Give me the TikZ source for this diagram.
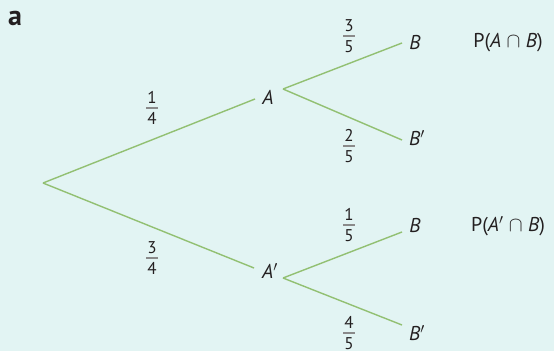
\documentclass[tikz,border=0pt]{standalone}
\usepackage{fontspec}
\setmainfont{PT Sans}
\definecolor{bgc}{HTML}{E2F4F3}
\definecolor{branchc}{HTML}{92C072}
\definecolor{ink}{HTML}{231F20}
\definecolor{barc}{HTML}{8A8A8A}
\newcommand\fr[2]{\vbox{\offinterlineskip\halign{\hfil##\hfil\cr #1\cr\noalign{\kern3.5pt}{\color{barc}\vrule width 12pt height 1.7pt depth 0pt}\cr\noalign{\kern3.5pt}#2\cr}}}
\begin{document}
\begin{tikzpicture}[x=1pt,y=-1pt,
  branch/.style={draw=branchc, line width=1.4pt},
  lbl/.style={inner sep=0pt, text=ink, font=\fontsize{20}{24}\selectfont},
  frac/.style={inner sep=0pt, text=ink, font=\fontsize{17}{20}\selectfont}]
\fill[bgc] (0,0) rectangle (554,351);
\useasboundingbox (0,0) rectangle (554,351);
\node[inner sep=0pt, text=ink, font=\bfseries\fontsize{28}{32}\selectfont] (tag) at (15,18) {a};
% junctions
\coordinate (root) at (43,183);
\coordinate (Ain) at (255,99);
\coordinate (Aout) at (283,89);
\coordinate (ABend) at (402,43);
\coordinate (ABpend) at (402,140);
\coordinate (Apin) at (254,268);
\coordinate (Apout) at (283,278);
\coordinate (ApBend) at (402,232);
\coordinate (ApBpend) at (402,325);
% connectors
\draw[branch] (root) -- (Ain);
\draw[branch] (root) -- (Apin);
\draw[branch] (Aout) -- (ABend);
\draw[branch] (Aout) -- (ABpend);
\draw[branch] (Apout) -- (ApBend);
\draw[branch] (Apout) -- (ApBpend);
% event labels
\node[lbl] (A) at (268,97) {\textit{A}};
\node[lbl] (Ap) at (270,271) {\textit{A}$'$};
\node[lbl] (B1) at (415,42) {\textit{B}};
\node[lbl] (Bp1) at (417,138) {\textit{B}$'$};
\node[lbl] (B2) at (415,225) {\textit{B}};
\node[lbl] (Bp2) at (417,333) {\textit{B}$'$};
\node[lbl] (P1) at (508,43) {P(\textit{A} $\cap$ \textit{B})};
\node[lbl] (P2) at (508,226) {P(\textit{A}$'$ $\cap$ \textit{B})};
% probabilities
\node[frac] (f14) at (152,108) {\fr{1}{4}};
\node[frac] (f34) at (152,258) {\fr{3}{4}};
\node[frac] (f35) at (349,36) {\fr{3}{5}};
\node[frac] (f25) at (349,146) {\fr{2}{5}};
\node[frac] (f15) at (349,225) {\fr{1}{5}};
\node[frac] (f45) at (349,333) {\fr{4}{5}};
\end{tikzpicture}
\end{document}
